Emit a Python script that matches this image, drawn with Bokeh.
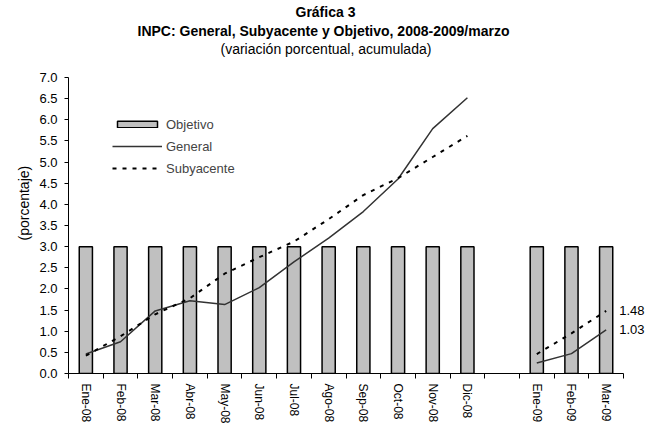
from bokeh.plotting import figure
from bokeh.models import (Range1d, FixedTicker, Legend, LegendItem, Title, Label,
                          NumeralTickFormatter)
from bokeh.embed import file_html
from bokeh.resources import INLINE

NaN = float("nan")

categories = ["Ene-08", "Feb-08", "Mar-08", "Abr-08", "May-08", "Jun-08", "Jul-08", "Ago-08",
              "Sep-08", "Oct-08", "Nov-08", "Dic-08", "", "Ene-09", "Feb-09", "Mar-09"]
general = [0.46, 0.75, 1.48, 1.72, 1.63, 2.03, 2.64, 3.20, 3.83, 4.60, 5.79, 6.52,
           NaN, 0.25, 0.47, 1.03]
subyacente = [0.42, 0.88, 1.40, 1.78, 2.36, 2.75, 3.12, 3.65, 4.22, 4.62, 5.12, 5.62,
              NaN, 0.46, 0.95, 1.48]
objetivo = [3.0, 3.0, 3.0, 3.0, 3.0, 3.0, 3.0, 3.0, 3.0, 3.0, 3.0, 3.0,
            NaN, 3.0, 3.0, 3.0]
y_ticks = [0.0, 0.5, 1.0, 1.5, 2.0, 2.5, 3.0, 3.5, 4.0, 4.5, 5.0, 5.5, 6.0, 6.5, 7.0]

FONT = "Liberation Sans"
x = list(range(len(categories)))
n = len(categories)
unit = 555 / n                      # px per category
frame_w = 577
x_end = -0.5 + frame_w / unit       # extra room on the right for end labels

p = figure(width=649, height=427, x_range=Range1d(-0.5, x_end),
           y_range=Range1d(0, 7), output_backend="svg", toolbar_location=None,
           min_border_left=68, min_border_right=4, min_border_top=0, min_border_bottom=54)
p.title = None
p.outline_line_color = None
p.xgrid.visible = False
p.ygrid.visible = False
p.background_fill_color = "white"
p.border_fill_color = "white"

# titles (innermost first); left aligned with offsets so that they centre on the page
p.add_layout(Title(text=" ", text_font=FONT, text_font_size="14px", standoff=3), "above")
for txt, style, off, so in [("(variación porcentual, acumulada)", "normal", 152, 0),
                            ("INPC: General, Subyacente y Objetivo, 2008-2009/marzo", "bold", 69, 0),
                            ("Gráfica 3", "bold", 227, 2)]:
    p.add_layout(Title(text=txt, align="left", offset=off, text_font=FONT,
                       text_font_size="14px", text_font_style=style, text_color="black",
                       standoff=so), "above")

bx = [xi for xi, v in zip(x, objetivo) if v == v]
bt = [v for v in objetivo if v == v]
bars = p.vbar(x=bx, top=bt, bottom=0, width=0.38, fill_color="#C0C0C0", line_color="black",
              line_width=1.5)
gen = p.line(x, general, line_color="#333333", line_width=1.5)
sub = p.line(x, subyacente, line_color="black", line_width=2, line_dash="4 6")

for val in (subyacente[-1], general[-1]):
    p.add_layout(Label(x=x[-1], y=val, text=f"{val:.2f}", x_offset=13, text_baseline="middle",
                       text_font=FONT, text_font_size="13px", text_color="black"))

legend = Legend(items=[LegendItem(label="Objetivo", renderers=[bars]),
                       LegendItem(label="General", renderers=[gen]),
                       LegendItem(label="Subyacente", renderers=[sub])],
                location=(44, 195), glyph_width=50, glyph_height=8, label_height=20,
                spacing=2, padding=0, margin=0, label_standoff=4,
                label_text_font=FONT, label_text_font_size="13px",
                border_line_color=None, background_fill_alpha=0)
p.add_layout(legend)

xa = p.xaxis[0]
xa.bounds = (-0.5, n - 0.5)
xa.ticker = FixedTicker(ticks=x, minor_ticks=[i - 0.5 for i in range(n + 1)])
xa.major_label_overrides = {i: c for i, c in zip(x, categories)}
xa.major_label_orientation = "vertical"
xa.major_tick_out = 0
xa.major_tick_in = 0
xa.minor_tick_out = 5
xa.minor_tick_in = 0
xa.minor_tick_line_color = "black"
xa.axis_line_color = "black"
xa.major_label_standoff = 5
xa.major_label_text_font = FONT
xa.major_label_text_font_size = "12px"
xa.major_label_text_color = "black"

ya = p.yaxis[0]
ya.ticker = FixedTicker(ticks=y_ticks, minor_ticks=[])
ya.formatter = NumeralTickFormatter(format="0.0")
ya.major_tick_out = 4
ya.major_tick_in = 0
ya.major_tick_line_color = "black"
ya.axis_line_color = "black"
ya.major_label_standoff = 7
ya.major_label_text_font = FONT
ya.major_label_text_font_size = "13px"
ya.major_label_text_color = "black"

# y-axis title as a left-side title, placed a little above the frame middle
p.add_layout(Title(text="(porcentaje)", align="left", offset=133, text_font=FONT,
                   text_font_size="14px", text_font_style="normal", text_color="black",
                   standoff=10), "left")

open("out.html", "w").write(file_html(p, INLINE))
